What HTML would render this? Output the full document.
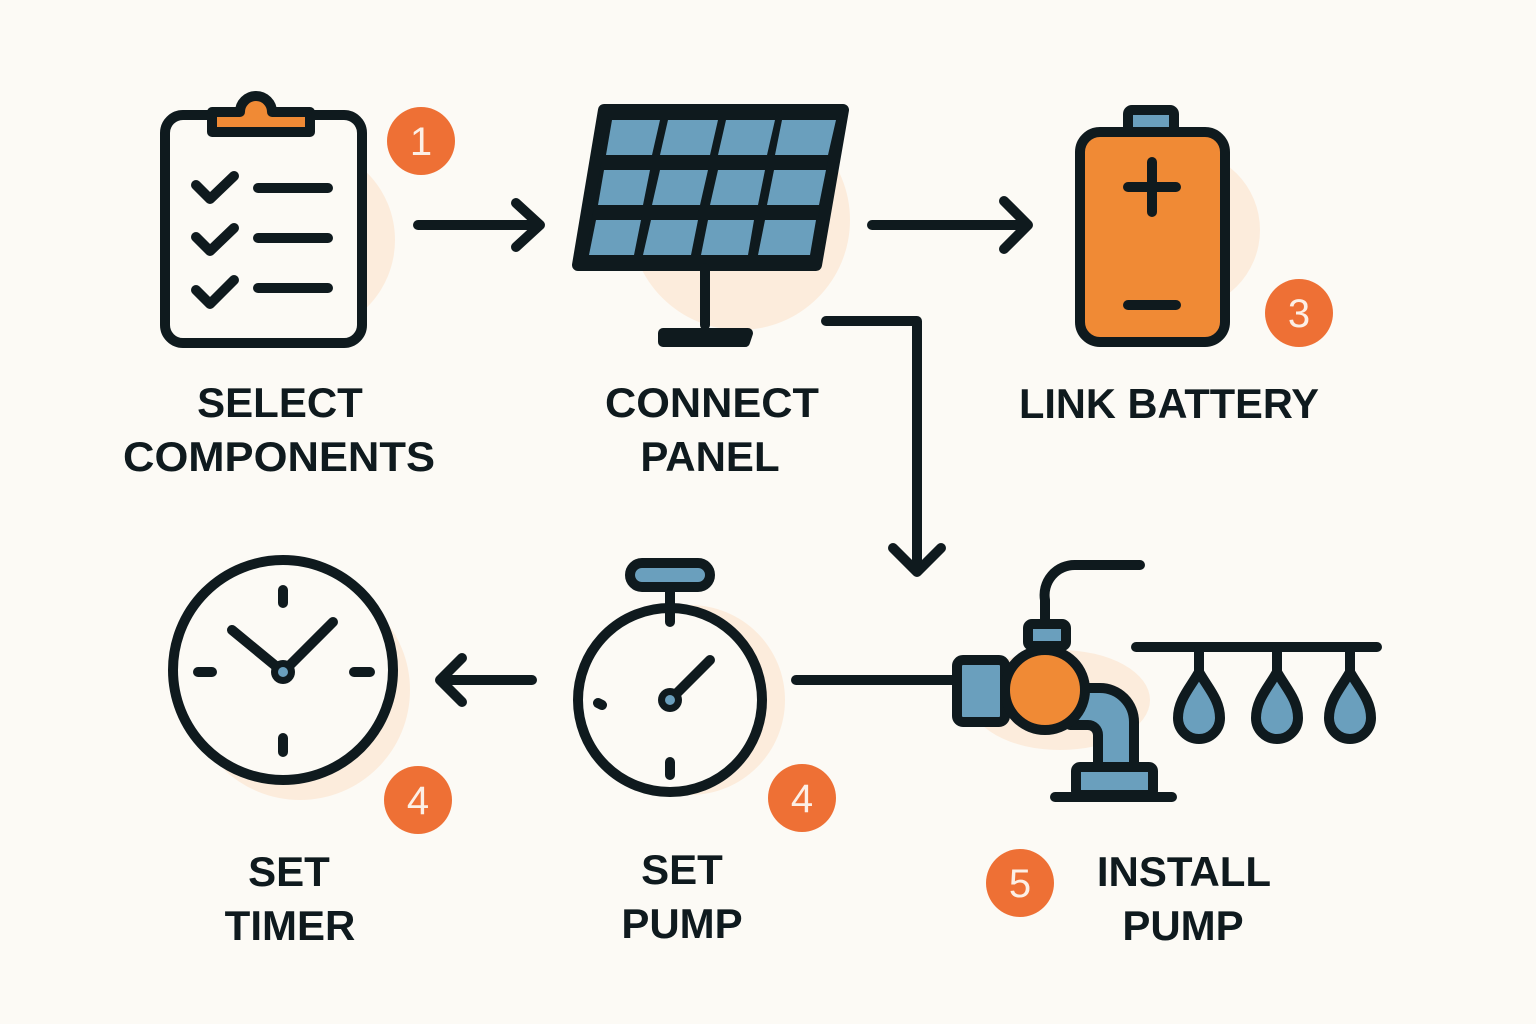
<!DOCTYPE html>
<html><head><meta charset="utf-8"><style>
body{margin:0;background:#fcfaf5}
svg{display:block}
text{font-family:"Liberation Sans",sans-serif;font-weight:bold;fill:#0f1a1e}
</style></head><body>
<svg width="1536" height="1024" viewBox="0 0 1536 1024">
<rect width="1536" height="1024" fill="#fcfaf5"/>
<g fill="#fbe9d6" opacity="0.8">
<circle cx="300" cy="240" r="95"/>
<circle cx="740" cy="220" r="110"/>
<circle cx="1180" cy="230" r="80"/>
<circle cx="300" cy="690" r="110"/>
<circle cx="690" cy="700" r="95"/>
<ellipse cx="1060" cy="700" rx="90" ry="50"/>
</g>
<g stroke="#0f1a1e" stroke-width="10" stroke-linecap="round" stroke-linejoin="round" fill="none">
<rect x="165" y="115" width="197" height="228" rx="18" fill="#fcfaf5"/>
<path d="M212 132 V112 H240 A16 16 0 0 1 272 112 H310 V132 Z" fill="#f08a35"/>
<path d="M196 185 L210 199 L234 176 M196 237 L210 251 L234 228 M196 290 L210 304 L234 280"/>
<path d="M258 188 H328 M258 238 H328 M258 288 H328"/>
<path d="M418 225 H540 M516 203 L540 225 L516 247"/>
<path d="M604 110 H843 L816 265 H578 Z" fill="#0f1a1e" stroke-width="12"/>
<path d="M705 268 V325 M663 333 H748 L745 342 H663 Z" fill="#0f1a1e"/>
<path d="M872 225 H1028 M1004 201 L1028 225 L1004 249"/>
<rect x="1128" y="110" width="46" height="22" rx="4" fill="#6a9fbd"/>
<rect x="1080" y="132" width="145" height="210" rx="20" fill="#f08a35"/>
<path d="M1152 162 V212 M1128 187 H1176 M1128 305 H1176"/>
<path d="M826 321 H917 V568 M893 548 L917 572 L941 548"/>
<circle cx="283" cy="670" r="110" fill="#fcfaf5"/>
<path d="M283 590 V603 M283 738 V752 M198 672 H212 M354 672 H370"/>
<path d="M232 630 L283 672 L333 622"/>
<path d="M532 680 H440 M462 658 L440 680 L462 702"/>
<rect x="630" y="563" width="80" height="24" rx="12" fill="#6a9fbd"/>
<path d="M670 590 V605"/>
<circle cx="670" cy="700" r="92" fill="#fcfaf5"/>
<path d="M670 612 V622 M670 762 V775 M598 703 L602 705 M670 700 L710 660"/>
<path d="M796 680 H960"/>
<path d="M1045 625 V600 A30 30 0 0 1 1075 565 H1140"/>
<rect x="1028" y="624" width="38" height="22" rx="4" fill="#6a9fbd"/>
<rect x="957" y="660" width="48" height="62" rx="6" fill="#6a9fbd"/>
<path d="M1070 688 H1100 A34 34 0 0 1 1134 722 V770 H1098 V735 A10 10 0 0 0 1088 725 H1070 Z" fill="#6a9fbd"/>
<circle cx="1045" cy="690" r="40" fill="#f08a35"/>
<rect x="1076" y="767" width="77" height="28" rx="4" fill="#6a9fbd"/>
<path d="M1055 797 H1172"/>
<path d="M1136 647 H1377"/>
<path d="M1199 650 V673 M1277 650 V673 M1350 650 V673"/>
<path d="M1199 672 C1190 688 1178 700 1178 718 A21 21 0 0 0 1220 718 C1220 700 1208 688 1199 672 Z" fill="#6a9fbd"/>
<path d="M1277 672 C1268 688 1256 700 1256 718 A21 21 0 0 0 1298 718 C1298 700 1286 688 1277 672 Z" fill="#6a9fbd"/>
<path d="M1350 672 C1341 688 1329 700 1329 718 A21 21 0 0 0 1371 718 C1371 700 1359 688 1350 672 Z" fill="#6a9fbd"/>
</g>
<g fill="#6a9fbd">
<polygon points="612,120 660,120 652,155 606,155"/>
<polygon points="668,120 718,120 710,155 660,155"/>
<polygon points="726,120 775,120 767,155 718,155"/>
<polygon points="782,120 836,120 828,155 775,155"/>
<polygon points="604,170 650,170 643,205 598,205"/>
<polygon points="660,170 708,170 700,205 652,205"/>
<polygon points="718,170 765,170 758,205 710,205"/>
<polygon points="774,170 826,170 819,205 767,205"/>
<polygon points="596,220 641,220 634,255 589,255"/>
<polygon points="651,220 698,220 691,255 643,255"/>
<polygon points="708,220 754,220 748,255 701,255"/>
<polygon points="765,220 816,220 810,255 758,255"/>
</g>
<circle cx="283" cy="672" r="12" fill="#0f1a1e"/><circle cx="283" cy="672" r="5" fill="#6a9fbd"/>
<circle cx="670" cy="700" r="12" fill="#0f1a1e"/><circle cx="670" cy="700" r="5" fill="#6a9fbd"/>
<g fill="#ee7035">
<circle cx="421" cy="141" r="34"/><circle cx="1299" cy="313" r="34"/>
<circle cx="418" cy="800" r="34"/><circle cx="802" cy="798" r="34"/><circle cx="1020" cy="883" r="34"/>
</g>
<g font-size="40" text-anchor="middle">
<text x="421" y="155" style="fill:#fcefe6;font-weight:normal">1</text>
<text x="1299" y="327" style="fill:#fcefe6;font-weight:normal">3</text>
<text x="418" y="814" style="fill:#fcefe6;font-weight:normal">4</text>
<text x="802" y="812" style="fill:#fcefe6;font-weight:normal">4</text>
<text x="1020" y="897" style="fill:#fcefe6;font-weight:normal">5</text>
</g>
<g font-size="42" text-anchor="middle">
<text x="280" y="417">SELECT</text>
<text x="279" y="471" textLength="312" lengthAdjust="spacingAndGlyphs">COMPONENTS</text>
<text x="712" y="417" textLength="214" lengthAdjust="spacingAndGlyphs">CONNECT</text>
<text x="710" y="471">PANEL</text>
<text x="1169" y="418" textLength="300" lengthAdjust="spacingAndGlyphs">LINK BATTERY</text>
<text x="289" y="886">SET</text>
<text x="290" y="940">TIMER</text>
<text x="682" y="884">SET</text>
<text x="682" y="938">PUMP</text>
<text x="1184" y="886">INSTALL</text>
<text x="1183" y="940">PUMP</text>
</g>
</svg>
</body></html>
